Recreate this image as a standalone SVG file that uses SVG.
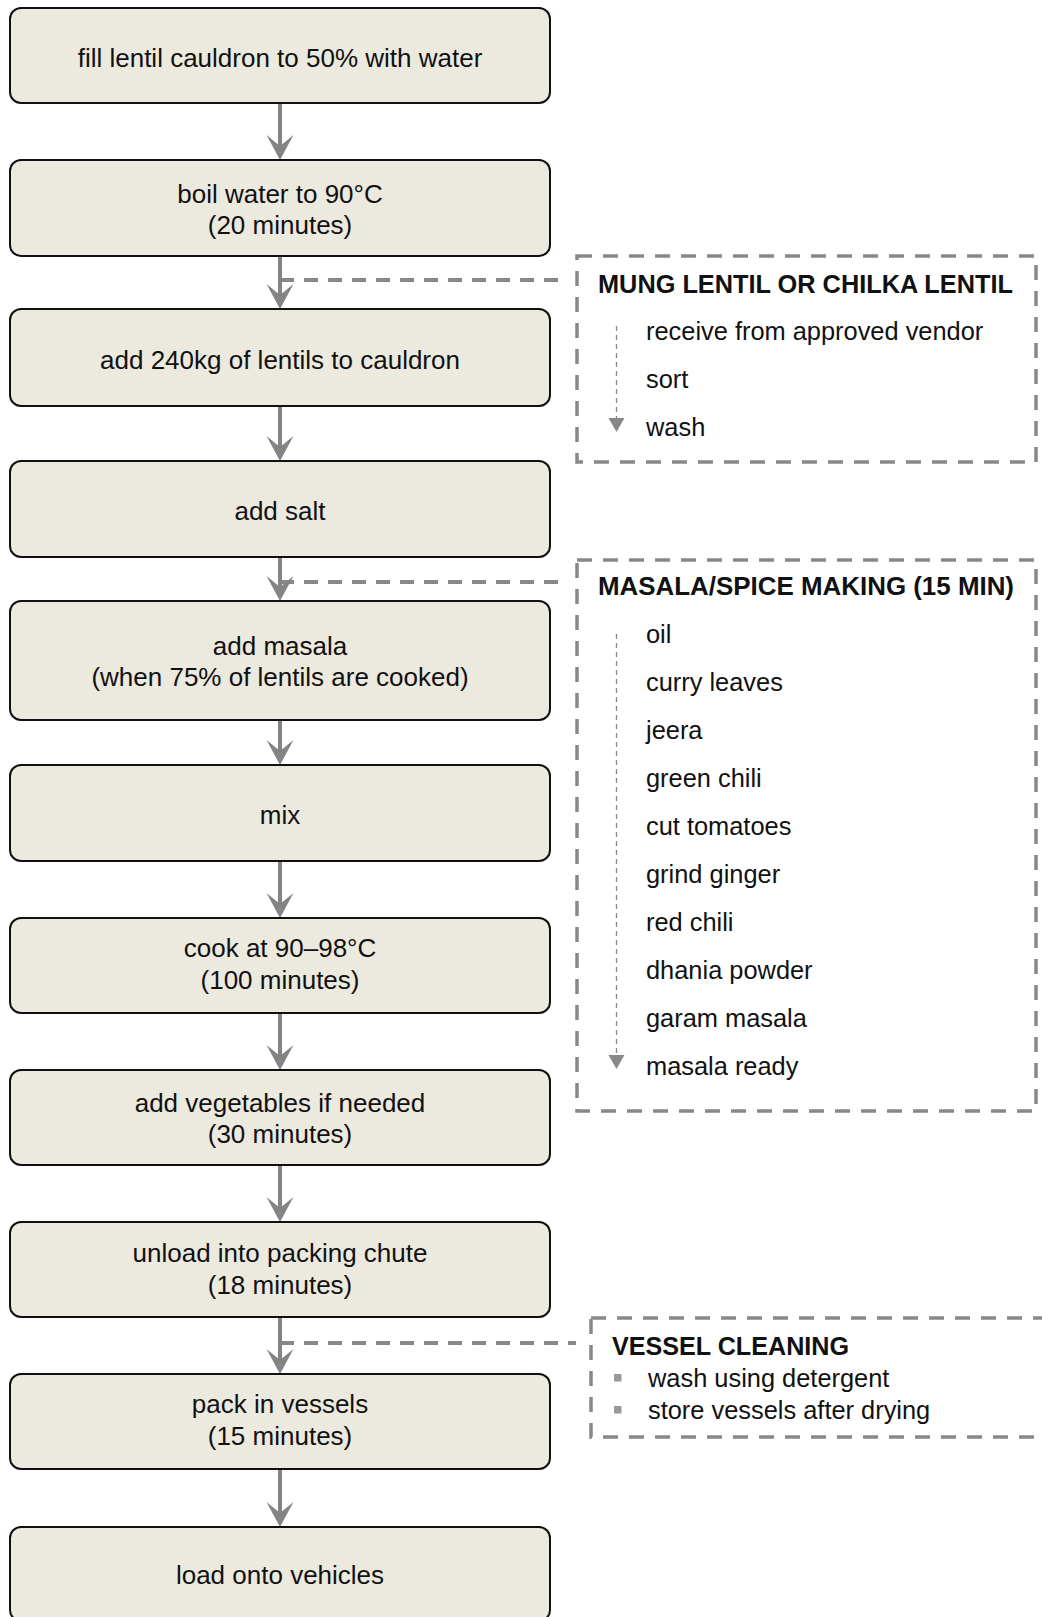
<svg xmlns="http://www.w3.org/2000/svg" width="1042" height="1617" viewBox="0 0 1042 1617">
<style>
.box{fill:#ECE9DF;stroke:#111;stroke-width:2}
.t{font-family:"Liberation Sans",Arial,sans-serif;font-size:26px;fill:#111;text-anchor:middle}
.s{font-family:"Liberation Sans",Arial,sans-serif;font-size:25.4px;fill:#111}
.h{font-family:"Liberation Sans",Arial,sans-serif;font-size:25px;font-weight:bold;fill:#111}
.dbox{fill:none;stroke:#888;stroke-width:3.5;stroke-dasharray:15 11}
.conn{fill:none;stroke:#888;stroke-width:4;stroke-dasharray:14 10}
.arrow{fill:none;stroke:#848484;stroke-width:4;marker-end:url(#ah)}
.thin{fill:none;stroke:#888;stroke-width:1.3;stroke-dasharray:5 4;marker-end:url(#tri)}
.bul{fill:#999}
</style>
<defs>
<marker id="ah" markerUnits="userSpaceOnUse" markerWidth="26" markerHeight="28" viewBox="0 0 26 28" refX="11" refY="14" orient="auto">
<path d="M0,0.5 L25,14 L0,27.5 L11,14 Z" fill="#848484"/>
</marker>
<marker id="tri" markerUnits="userSpaceOnUse" markerWidth="15" markerHeight="18" viewBox="0 0 15 18" refX="0" refY="9" orient="auto">
<path d="M0,1 L14,9 L0,17 Z" fill="#888"/>
</marker>
</defs>

<g id="connectors">
<line class="conn" x1="280" y1="280" x2="563" y2="280"/>
<line class="conn" x1="280" y1="582" x2="563" y2="582"/>
<line class="conn" x1="280" y1="1343" x2="576" y2="1343"/>
<line class="arrow" x1="280" y1="103" x2="280" y2="146"/>
<line class="arrow" x1="280" y1="256" x2="280" y2="295"/>
<line class="arrow" x1="280" y1="406" x2="280" y2="447"/>
<line class="arrow" x1="280" y1="557" x2="280" y2="587"/>
<line class="arrow" x1="280" y1="720" x2="280" y2="751"/>
<line class="arrow" x1="280" y1="861" x2="280" y2="904"/>
<line class="arrow" x1="280" y1="1013" x2="280" y2="1056"/>
<line class="arrow" x1="280" y1="1165" x2="280" y2="1208"/>
<line class="arrow" x1="280" y1="1317" x2="280" y2="1360"/>
<line class="arrow" x1="280" y1="1469" x2="280" y2="1513"/>
</g>

<g id="n1"><rect class="box" x="10" y="8" width="540" height="95" rx="11"/><text class="t" x="280" y="66.5">fill lentil cauldron to 50% with water</text></g>
<g id="n2"><rect class="box" x="10" y="160" width="540" height="96" rx="11"/><text class="t" x="280" y="202.5">boil water to 90°C</text><text class="t" x="280" y="233.5">(20 minutes)</text></g>
<g id="n3"><rect class="box" x="10" y="309" width="540" height="97" rx="11"/><text class="t" x="280" y="368.5">add 240kg of lentils to cauldron</text></g>
<g id="n4"><rect class="box" x="10" y="461" width="540" height="96" rx="11"/><text class="t" x="280" y="520">add salt</text></g>
<g id="n5"><rect class="box" x="10" y="601" width="540" height="119" rx="11"/><text class="t" x="280" y="655">add masala</text><text class="t" x="280" y="686">(when 75% of lentils are cooked)</text></g>
<g id="n6"><rect class="box" x="10" y="765" width="540" height="96" rx="11"/><text class="t" x="280" y="824">mix</text></g>
<g id="n7"><rect class="box" x="10" y="918" width="540" height="95" rx="11"/><text class="t" x="280" y="957">cook at 90–98°C</text><text class="t" x="280" y="988.5">(100 minutes)</text></g>
<g id="n8"><rect class="box" x="10" y="1070" width="540" height="95" rx="11"/><text class="t" x="280" y="1111.5">add vegetables if needed</text><text class="t" x="280" y="1143">(30 minutes)</text></g>
<g id="n9"><rect class="box" x="10" y="1222" width="540" height="95" rx="11"/><text class="t" x="280" y="1262">unload into packing chute</text><text class="t" x="280" y="1293.5">(18 minutes)</text></g>
<g id="n10"><rect class="box" x="10" y="1374" width="540" height="95" rx="11"/><text class="t" x="280" y="1413">pack in vessels</text><text class="t" x="280" y="1445">(15 minutes)</text></g>
<g id="n11"><rect class="box" x="10" y="1527" width="540" height="94" rx="11"/><text class="t" x="280" y="1584">load onto vehicles</text></g>

<g id="mung">
<rect class="dbox" x="577" y="256" width="459" height="206"/>
<text class="h" x="598" y="292.5" textLength="415" lengthAdjust="spacingAndGlyphs">MUNG LENTIL OR CHILKA LENTIL</text>
<line class="thin" x1="616.5" y1="326" x2="616.5" y2="418"/>
<text class="s" x="646" y="340">receive from approved vendor</text>
<text class="s" x="646" y="388">sort</text>
<text class="s" x="646" y="436">wash</text>
</g>

<g id="masala">
<rect class="dbox" x="577" y="560" width="459" height="551"/>
<text class="h" x="598" y="595" textLength="416" lengthAdjust="spacingAndGlyphs">MASALA/SPICE MAKING (15 MIN)</text>
<line class="thin" x1="616.5" y1="634" x2="616.5" y2="1055"/>
<text class="s" x="646" y="643">oil</text>
<text class="s" x="646" y="691">curry leaves</text>
<text class="s" x="646" y="739">jeera</text>
<text class="s" x="646" y="787">green chili</text>
<text class="s" x="646" y="835">cut tomatoes</text>
<text class="s" x="646" y="883">grind ginger</text>
<text class="s" x="646" y="931">red chili</text>
<text class="s" x="646" y="979">dhania powder</text>
<text class="s" x="646" y="1027">garam masala</text>
<text class="s" x="646" y="1075">masala ready</text>
</g>

<g id="vessel">
<rect class="dbox" x="591" y="1318" width="500" height="119"/>
<text class="h" x="612" y="1355" textLength="237" lengthAdjust="spacingAndGlyphs">VESSEL CLEANING</text>
<rect class="bul" x="614" y="1374" width="7.5" height="7.5"/>
<text class="s" x="648" y="1387">wash using detergent</text>
<rect class="bul" x="614" y="1406" width="7.5" height="7.5"/>
<text class="s" x="648" y="1418.5">store vessels after drying</text>
</g>
</svg>
